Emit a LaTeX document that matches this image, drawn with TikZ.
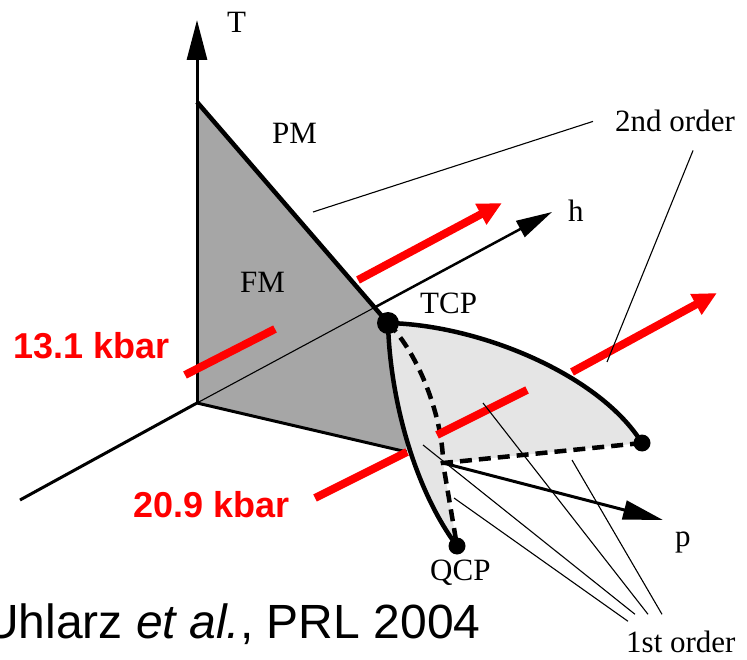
\documentclass[tikz,border=0pt]{standalone}
\usepackage{fontspec}
\setmainfont{Liberation Serif}
\newfontfamily\citefont{Liberation Sans}
\usetikzlibrary{arrows.meta,positioning,calc}
\definecolor{pdFM}{RGB}{166,166,166}
\definecolor{pdSurf}{RGB}{229,229,229}
\definecolor{pdRed}{RGB}{255,0,0}
\tikzset{
  pdaxis/.style={
    line width=3pt,
    draw=black
  },
  pdedge/.style={
    line width=4.5pt,
    draw=black,
    line join=round
  },
  pddash/.style={
    line width=4.5pt,
    draw=black,
    dash pattern=on 12pt off 7pt
  },
  pdlead/.style={
    line width=1.1pt,
    draw=black
  },
  pdfield/.style={
    line width=8pt,
    draw=pdRed
  },
  pdfieldarrow/.style={
    pdfield,
    -{Triangle[length=24pt,width=22pt]}
  },
  pddot/.style={
    circle,
    fill=black,
    inner sep=0pt
  },
  pdlabel/.style={
    inner sep=0pt,
    font=\fontsize{31}{34}\selectfont
  },
  pdkbar/.style={
    inner sep=0pt,
    text=pdRed,
    font=\citefont\bfseries\fontsize{36}{40}\selectfont
  }
}

\begin{document}
\begin{tikzpicture}[x=1pt,y=-1pt]
  \useasboundingbox (0,0) rectangle (747,660);
  \clip (0,0) rectangle (747,660);

  % points of the phase diagram
  \coordinate (O) at (197,403);
  \coordinate (Ttip) at (197,20);
  \coordinate (Ttop) at (197,102);
  \coordinate (hTip) at (552,212);
  \coordinate (hOut) at ($(O)!0.5!(hTip)$);
  \coordinate (front) at (20,500);
  \coordinate (TCP) at (388,323);
  \coordinate (Pc) at (407,452);
  \coordinate (QCP) at (457,546);
  \coordinate (P0) at (443,463);
  \coordinate (R) at (642,443);
  \coordinate (pTip) at (663,520);

  % field sweeps
  \coordinate (lowA) at (185,375);
  \coordinate (lowB) at (275,329);
  \coordinate (lowC) at (358,280);
  \coordinate (lowD) at (502,203);
  \coordinate (highA) at (315,498);
  \coordinate (highC) at (437,435);
  \coordinate (highD) at (527,390);
  \coordinate (highE) at (572,372);
  \coordinate (highF) at (717,293);

  \fill[pdFM] (Ttop) -- (TCP) -- (Pc) -- (O) -- cycle;
  \fill[pdSurf] (TCP) .. controls (480,325) and (600,375) .. (R) -- (P0) -- (QCP)
    .. controls (415,490) and (390,400) .. (TCP) -- cycle;

  \draw[pdlead] (O) -- (hOut);
  \draw[line width=2.5pt, -{Triangle[length=36pt,width=18pt]}] (hOut) -- (hTip);

  \draw[pdaxis, -{Triangle[length=40pt,width=20pt]}] (O) -- (Ttip);
  \draw[pdaxis] (O) -- (front);
  \draw[pdaxis] (O) -- (Pc);
  \draw[pdedge] (Ttop) -- (TCP);

  \draw[pdedge] (TCP) .. controls (390,400) and (415,490) .. (QCP);
  \draw[pdedge] (TCP) .. controls (480,325) and (600,375) .. (R);
  \draw[pddash] (TCP) .. controls (420,355) and (443,420) .. (P0);
  \draw[pddash] (R) -- (P0) -- (QCP);
  \draw[pdaxis, -{Triangle[length=40pt,width=19pt]}] (P0) -- (pTip);

  \draw[pdfield] (lowA) -- (lowB);
  \draw[pdfieldarrow] (lowC) -- (lowD);
  \draw[pdfield] (highA) -- (Pc);
  \draw[pdfield] (highC) -- (highD);
  \draw[pdfieldarrow] (highE) -- (highF);

  \node[pddot, minimum size=22pt] (tcpdot) at (TCP) {};
  \node[pddot, minimum size=17pt] (rdot) at (R) {};
  \node[pddot, minimum size=17pt] (qcpdot) at (QCP) {};

  \node[pdlabel, anchor=base west] (Tlab) at (227,33) {T};
  \node[pdlabel, anchor=base west] (pm) at (272,144) {PM};
  \node[pdlabel, anchor=base west] (fm) at (240,293) {FM};
  \node[pdlabel, anchor=base west] (tcplab) at (420,313) {TCP};
  \node[pdlabel, anchor=base west] (hlab) at (568,222) {h};
  \node[pdlabel, anchor=base west] (plab) at (675,546) {p};
  \node[pdlabel, anchor=base west] (qcplab) at (430,580) {QCP};
  \node[pdlabel, anchor=base west] (second) at (615,132) {2nd order};
  \node[pdlabel, anchor=base west] (first) at (626,652) {1st order};
  \node[pdkbar, anchor=base west] (low) at (13,358) {13.1 kbar};
  \node[pdkbar, anchor=base west] (high) at (133,517) {20.9 kbar};
  \node[anchor=base west, inner sep=0pt, font=\citefont\fontsize{48}{52}\selectfont]
    (cite) at (-16,638) {Uhlarz \textit{et al.}, PRL 2004};

  % leaders
  \coordinate (sA) at (313,212);
  \coordinate (sB) at (607,362);
  \draw[pdlead] ($(second.west)+(-22,0)$) -- (sA);
  \draw[pdlead] ($(second.south)+(18,18)$) -- (sB);
  \coordinate (fA) at (454,498);
  \coordinate (fB) at (423,445);
  \coordinate (fC) at (483,403);
  \coordinate (fD) at (572,460);
  \draw[pdlead] (fA) -- ($(first.north west)+(2,-9)$);
  \draw[pdlead] (fB) -- ($(first.north west)+(9,-16)$);
  \draw[pdlead] (fC) -- ($(first.north west)+(22,-16)$);
  \draw[pdlead] (fD) -- ($(first.north west)+(36,-16)$);
\end{tikzpicture}
\end{document}
